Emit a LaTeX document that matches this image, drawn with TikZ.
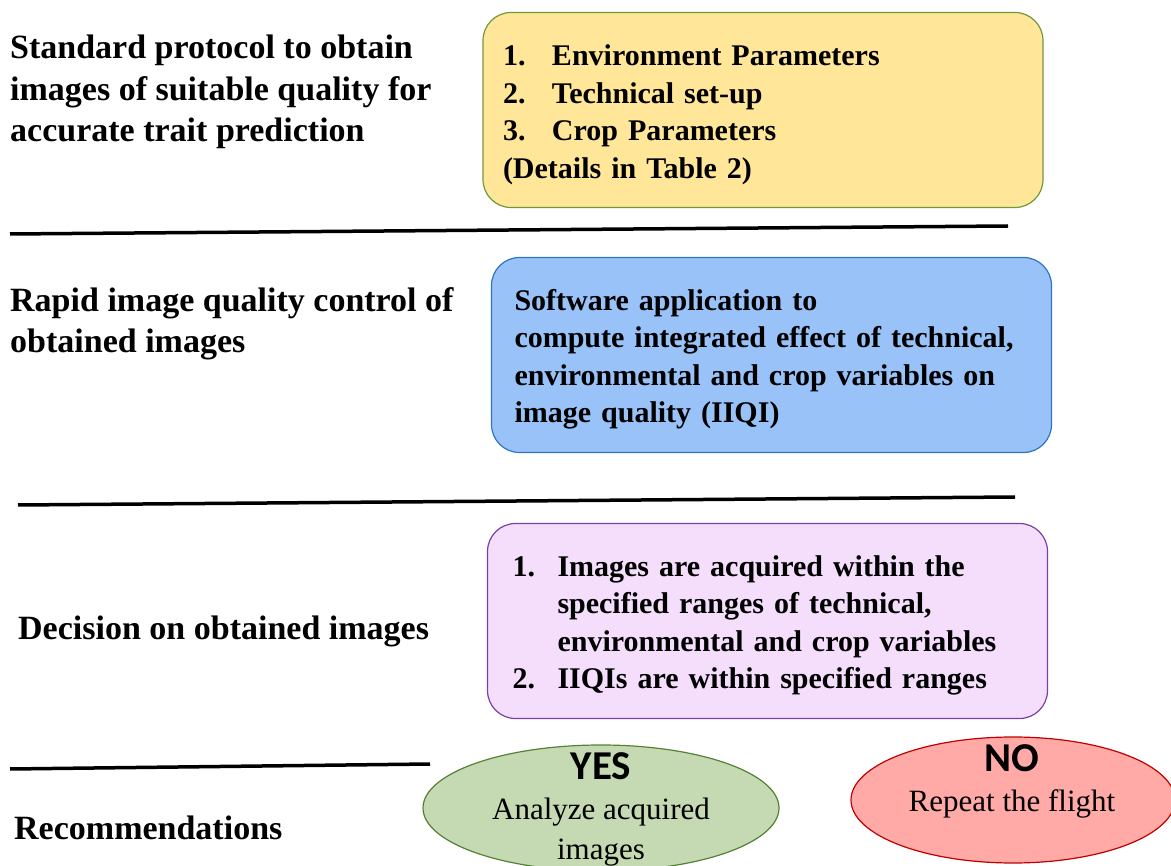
\documentclass[tikz,border=0pt]{standalone}
\usepackage{fontspec}
\setmainfont{Liberation Serif}
\newfontfamily\calibri{Carlito}
\usetikzlibrary{shapes.geometric}

\definecolor{envfill}{HTML}{FFE699}
\definecolor{envdraw}{HTML}{6E9A3A}
\definecolor{iqfill}{HTML}{99C3F8}
\definecolor{iqdraw}{HTML}{2F75C0}
\definecolor{decfill}{HTML}{F4DEFC}
\definecolor{decdraw}{HTML}{7B3FA8}
\definecolor{yesfill}{HTML}{C5DAB3}
\definecolor{yesdraw}{HTML}{548235}
\definecolor{nofill}{HTML}{FFAAA6}
\definecolor{nodraw}{HTML}{C00000}

\newcommand\answer[1]{{\calibri\bfseries\fontsize{41}{40.5}\selectfont #1}}
\newcommand\topstrut{\rule{0pt}{30pt}}

\tikzset{
  stage/.style={anchor=west, align=left, inner sep=0pt, font=\bfseries\fontsize{34}{41.5}\selectfont},
  box/.style={rectangle, rounded corners=28pt, line width=1.2pt, minimum width=560pt, minimum height=195pt, align=left, font=\bfseries\fontsize{30}{37.5}\selectfont},
  verdict/.style={ellipse, line width=1.2pt, minimum width=356pt, minimum height=126pt},
  verdicttext/.style={align=center, inner sep=0pt, font=\fontsize{31}{40}\selectfont},
  rule/.style={line width=3.5pt}
}

\begin{document}
\begin{tikzpicture}[x=1pt,y=-1pt]
\useasboundingbox (0,0) rectangle (1171,866);

\node [stage] (s1) at (10,92) {Standard protocol to obtain\\images of suitable quality for\\accurate trait prediction};
\node [stage] (s2) at (10,324) {Rapid image quality control of\\obtained images};
\node [stage] (s3) at (18,631) {Decision on obtained images};
\node [stage] (s4) at (14,828) {Recommendations};

\node [box, fill=envfill, draw=envdraw, text width=520pt] (env) at (763,110) {\topstrut\makebox[49pt][l]{1.}Environment Parameters\\\makebox[49pt][l]{2.}Technical set-up\\\makebox[49pt][l]{3.}Crop Parameters\\(Details in Table 2)};
\node [box, fill=iqfill, draw=iqdraw, text width=514pt] (iq) at (771.5,355) {\topstrut Software application to\\compute integrated effect of technical,\\environmental and crop variables on\\image quality (IIQI)};
\node [box, fill=decfill, draw=decdraw, text width=510pt] (dec) at (767.5,621) {\topstrut\makebox[45pt][l]{1.}Images are acquired within the\\\hspace*{45pt}specified ranges of technical,\\\hspace*{45pt}environmental and crop variables\\\makebox[45pt][l]{2.}IIQIs are within specified ranges};

\node [verdict, fill=yesfill, draw=yesdraw] (yes) at (601,808) {};
\node [verdicttext] (yestext) at (601,809) {\answer{YES}\\Analyze acquired\\images};
\node [verdict, fill=nofill, draw=nodraw, minimum width=324pt] (no) at (1013,800) {};
\node [verdicttext] (notext) at (1012,781) {\answer{NO}\\Repeat the flight};

\draw [rule] (10,234) -- (1008,226);
\draw [rule] (18,505) -- (1015,497);
\draw [rule] (10,769) -- (430,764);
\end{tikzpicture}
\end{document}
